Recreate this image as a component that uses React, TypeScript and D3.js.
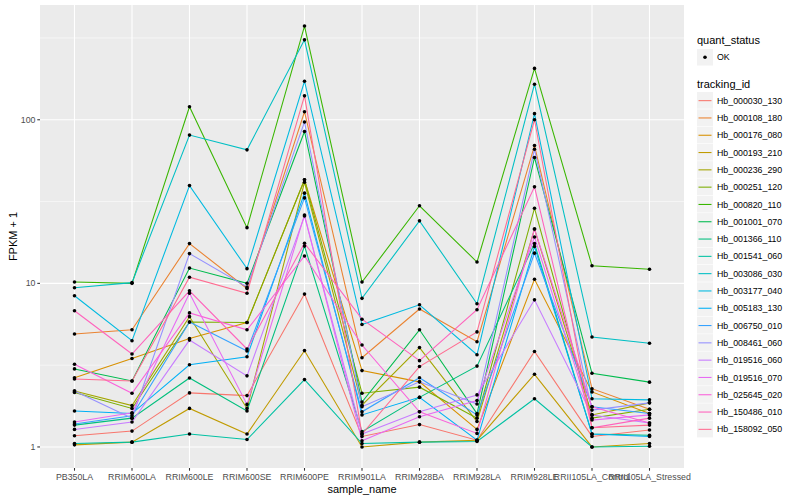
import React, { useEffect } from 'react';
import * as d3 from 'd3';

const samples = [
  'PB350LA', 'RRIM600LA', 'RRIM600LE', 'RRIM600SE', 'RRIM600PE', 'RRIM901LA',
  'RRIM928BA', 'RRIM928LA', 'RRIM928LE', 'RRII105LA_Control', 'RRII105LA_Stressed',
];

const trackingIds = [
  'Hb_000030_130', 'Hb_000108_180', 'Hb_000176_080', 'Hb_000193_210', 'Hb_000236_290',
  'Hb_000251_120', 'Hb_000820_110', 'Hb_001001_070', 'Hb_001366_110', 'Hb_001541_060',
  'Hb_003086_030', 'Hb_003177_040', 'Hb_005183_130', 'Hb_006750_010', 'Hb_008461_060',
  'Hb_019516_060', 'Hb_019516_070', 'Hb_025645_020', 'Hb_150486_010', 'Hb_158092_050',
];

// FPKM + 1, one row per tracking id, columns follow `samples`
const fpkm: number[][] = [
  [1.17, 1.25, 2.14, 2.06, 8.6, 1.16, 1.37, 1.1, 3.83, 1.16, 1.27],
  [4.9, 5.2, 17.5, 9.3, 112, 3.51, 6.97, 4.4, 69.6, 2.27, 1.7],
  [2.65, 3.47, 4.6, 5.76, 43, 2.93, 2.5, 1.28, 10.6, 2.17, 1.6],
  [1.03, 1.07, 1.72, 1.2, 3.88, 1.0, 1.07, 1.1, 2.78, 1.0, 1.05],
  [2.2, 1.79, 6.26, 1.72, 41.5, 1.8, 4.05, 1.43, 21.5, 1.57, 1.86],
  [2.15, 1.72, 5.8, 5.76, 43, 2.13, 2.32, 1.5, 28.8, 1.5, 1.7],
  [10.2, 10, 120, 21.9, 374, 10.2, 29.8, 13.5, 206, 12.8, 12.2],
  [3.0, 2.53, 12.4, 10, 84.8, 1.88, 5.2, 1.6, 58.8, 2.82, 2.49],
  [1.36, 1.5, 2.64, 1.66, 16.9, 1.24, 2.01, 3.12, 17.5, 1.2, 1.18],
  [1.05, 1.07, 1.2, 1.11, 2.58, 1.05, 1.07, 1.08, 1.97, 1.0, 1.01],
  [9.4, 10.1, 80.6, 65.5, 308, 8.1, 24.1, 7.5, 165, 4.7, 4.3],
  [8.4, 4.46, 39.6, 12.3, 172, 5.6, 7.4, 3.66, 109, 1.97, 1.94],
  [1.66, 1.6, 3.18, 3.56, 35.6, 1.57, 2.01, 1.1, 16.8, 1.2, 1.16],
  [1.38, 1.55, 5.8, 3.86, 33.3, 1.64, 2.65, 1.57, 15.3, 1.76, 1.6],
  [2.2, 1.5, 15.2, 9.5, 97, 1.76, 2.5, 1.83, 66, 1.68, 1.86],
  [1.28, 1.42, 4.5, 2.72, 25.8, 1.2, 1.64, 2.08, 7.93, 1.57, 1.4],
  [1.42, 1.62, 8.7, 1.82, 26.2, 1.09, 1.53, 1.92, 19.2, 1.46, 1.57],
  [3.2, 2.13, 6.6, 5.2, 14.7, 4.2, 1.64, 1.21, 21.5, 1.76, 1.4],
  [6.8, 3.7, 9.0, 3.97, 17.6, 6.04, 3.37, 6.9, 38.9, 1.31, 1.5],
  [2.6, 2.53, 10.9, 8.7, 140, 1.2, 3.1, 5.05, 100, 1.31, 1.36],
];

const yTicks = [1, 10, 100];
const yMinor = [Math.pow(10, 0.5), Math.pow(10, 1.5), Math.pow(10, 2.5)];

const colors = [
  '#F8766D', '#EA8331', '#D89000', '#C09B00', '#A3A500', '#7CAE00', '#39B600',
  '#00BB4E', '#00BF7D', '#00C1A3', '#00BFC4', '#00BAE0', '#00B0F6', '#35A2FF',
  '#9590FF', '#C77CFF', '#E76BF3', '#FA62DB', '#FF62BC', '#FF6C91',
];

const width = 800;
const height = 500;
const panel = { left: 40, right: 684, top: 5, bottom: 468 };
const font = '"Liberation Sans", Arial, Helvetica, sans-serif';

export default function App() {
  useEffect(() => {
    document.body.style.margin = '0';
  }, []);

  const all = fpkm.flat();
  const lo = Math.log10(d3.min(all)!);
  const hi = Math.log10(d3.max(all)!);
  const pad = (hi - lo) * 0.05;

  const x = d3.scalePoint<string>().domain(samples).range([panel.left, panel.right]).padding(0.6);
  const y = d3
    .scaleLog()
    .domain([Math.pow(10, lo - pad), Math.pow(10, hi + pad)])
    .range([panel.bottom, panel.top]);

  const line = d3
    .line<number>()
    .x((_, i) => x(samples[i])!)
    .y((d) => y(d));

  const legendX = 697;
  const keyTop = 92;
  const keyStep = 17.3;

  return (
    <svg width={width} height={height} style={{ display: 'block', fontFamily: font }}>
      <rect x={0} y={0} width={width} height={height} fill="#fff" />
      <rect
        x={panel.left}
        y={panel.top}
        width={panel.right - panel.left}
        height={panel.bottom - panel.top}
        fill="#EBEBEB"
      />
      {yMinor.map((t) => (
        <line key={'m' + t} x1={panel.left} x2={panel.right} y1={y(t)} y2={y(t)} stroke="#fff" strokeWidth={0.55} />
      ))}
      {yTicks.map((t) => (
        <line key={'g' + t} x1={panel.left} x2={panel.right} y1={y(t)} y2={y(t)} stroke="#fff" strokeWidth={1.1} />
      ))}
      {samples.map((s) => (
        <line key={'v' + s} x1={x(s)} x2={x(s)} y1={panel.top} y2={panel.bottom} stroke="#fff" strokeWidth={1.1} />
      ))}

      {fpkm.map((row, i) => (
        <path key={trackingIds[i]} d={line(row)!} fill="none" stroke={colors[i]} strokeWidth={1.07} />
      ))}
      {fpkm.map((row, i) =>
        row.map((v, j) => <circle key={i + '-' + j} cx={x(samples[j])} cy={y(v)} r={1.8} fill="#000" />)
      )}

      {/* y axis */}
      {yTicks.map((t) => (
        <g key={'yt' + t}>
          <line x1={panel.left - 2.7} x2={panel.left} y1={y(t)} y2={y(t)} stroke="#333" strokeWidth={1.07} />
          <text x={panel.left - 4.5} y={y(t)} dy="0.35em" textAnchor="end" fontSize={8.8} fill="#4D4D4D">
            {t}
          </text>
        </g>
      ))}
      {/* x axis */}
      {samples.map((s) => (
        <g key={'xt' + s}>
          <line x1={x(s)} x2={x(s)} y1={panel.bottom} y2={panel.bottom + 2.7} stroke="#333" strokeWidth={1.07} />
          <text x={x(s)} y={panel.bottom + 12} textAnchor="middle" fontSize={8.8} fill="#4D4D4D">
            {s}
          </text>
        </g>
      ))}
      <text x={(panel.left + panel.right) / 2} y={493} textAnchor="middle" fontSize={11} fill="#000">
        sample_name
      </text>
      <text
        transform={`translate(17, ${(panel.top + panel.bottom) / 2}) rotate(-90)`}
        textAnchor="middle"
        fontSize={11}
        fill="#000"
      >
        FPKM + 1
      </text>

      {/* legends */}
      <text x={legendX} y={44} fontSize={11} fill="#000">quant_status</text>
      <rect x={legendX} y={49} width={16} height={16.5} fill="#F2F2F2" />
      <circle cx={legendX + 8} cy={57.3} r={1.8} fill="#000" />
      <text x={legendX + 20} y={57.3} dy="0.35em" fontSize={8.8} fill="#000">OK</text>

      <text x={legendX} y={88} fontSize={11} fill="#000">tracking_id</text>
      {trackingIds.map((id, i) => {
        const cy = keyTop + keyStep * i + keyStep / 2;
        return (
          <g key={'lg' + id}>
            <rect x={legendX} y={cy - keyStep / 2} width={16} height={keyStep - 0.6} fill="#F2F2F2" />
            <line x1={legendX + 1.5} x2={legendX + 14.5} y1={cy} y2={cy} stroke={colors[i]} strokeWidth={1.07} />
            <text x={legendX + 20} y={cy} dy="0.35em" fontSize={8.8} fill="#000">
              {id}
            </text>
          </g>
        );
      })}
    </svg>
  );
}
